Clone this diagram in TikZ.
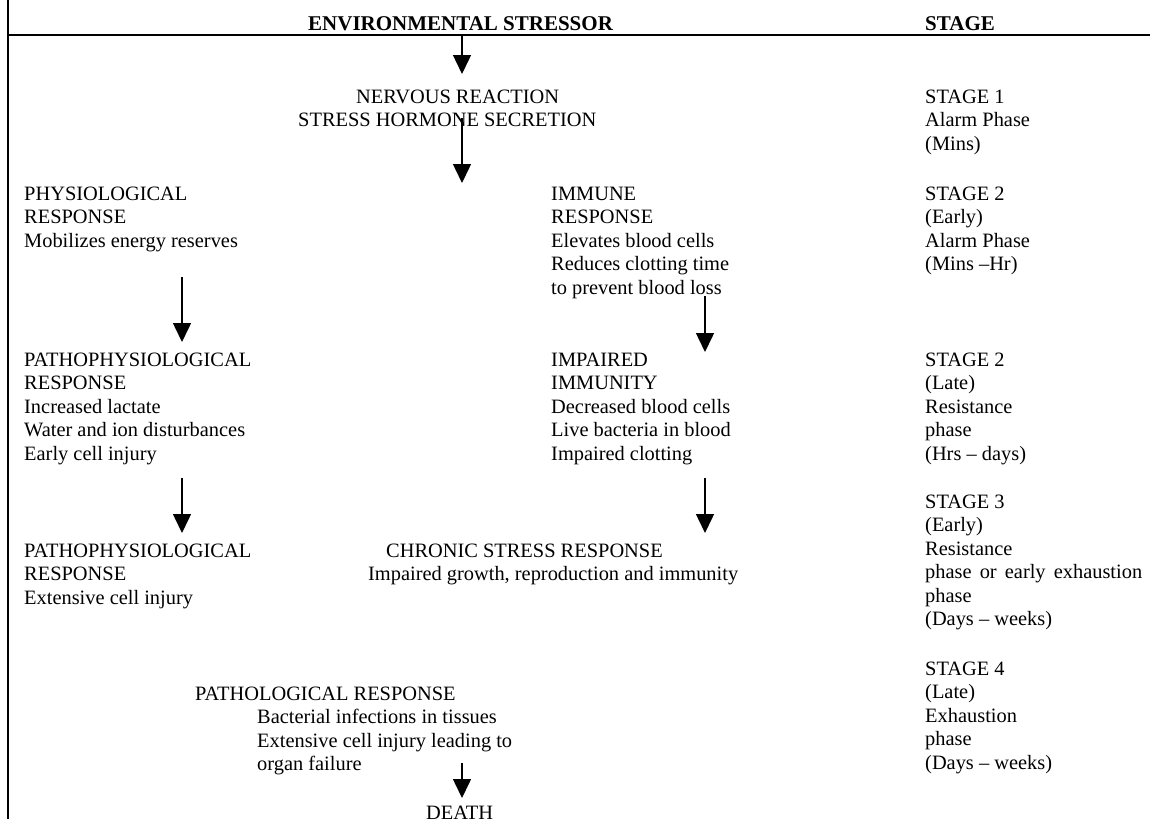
\documentclass[tikz,border=0pt]{standalone}
\usepackage{fontspec}
\setmainfont{Liberation Serif}
\usetikzlibrary{arrows.meta}
\tikzset{
  txt/.style={anchor=base west, align=left, inner sep=0pt, font=\fontsize{20.4pt}{23.5pt}\selectfont},
  head/.style={txt, font=\fontsize{21pt}{23.5pt}\selectfont\bfseries},
  flow/.style={line width=1.5pt, -{Triangle[width=18pt,length=19pt]}},
}
\begin{document}
\begin{tikzpicture}[x=1pt,y=-1pt]
  \useasboundingbox (0,0) rectangle (1150,819);
  % frame lines
  \draw[line width=2pt] (8,0) -- (8,819);
  \draw[line width=2pt] (8,35) -- (1150,35);
  % headings
  \node[head] (env) at (308,30) {ENVIRONMENTAL STRESSOR};
  \node[head] (stage) at (925,30) {STAGE};
  % response column (base = last line)
  \node[txt] (nerv) at (298,126.5) {\hspace*{58pt}NERVOUS REACTION\\STRESS HORMONE SECRETION};
  \node[txt] (phys) at (24,247) {PHYSIOLOGICAL\\RESPONSE\\Mobilizes energy reserves};
  \node[txt] (imm) at (551,294) {IMMUNE\\RESPONSE\\Elevates blood cells\\Reduces clotting time\\to prevent blood loss};
  \node[txt] (path1) at (24,460) {PATHOPHYSIOLOGICAL\\RESPONSE\\Increased lactate\\Water and ion disturbances\\Early cell injury};
  \node[txt] (impi) at (551,460) {IMPAIRED\\IMMUNITY\\Decreased blood cells\\Live bacteria in blood\\Impaired clotting};
  \node[txt] (path2) at (24,604) {PATHOPHYSIOLOGICAL\\RESPONSE\\Extensive cell injury};
  \node[txt] (chron) at (368,580.5) {\hspace*{18pt}CHRONIC STRESS RESPONSE\\Impaired growth, reproduction and immunity};
  \node[txt] (patho) at (195,770.5) {PATHOLOGICAL RESPONSE\\\hspace*{62pt}Bacterial infections in tissues\\\hspace*{62pt}Extensive cell injury leading to\\\hspace*{62pt}organ failure};
  \node[txt] (death) at (426,819) {DEATH};
  % stage column
  \node[txt] (s1) at (925,150) {STAGE 1\\Alarm Phase\\(Mins)};
  \node[txt] (s2a) at (925,270.5) {STAGE 2\\(Early)\\Alarm Phase\\(Mins –Hr)};
  \node[txt] (s2b) at (925,460) {STAGE 2\\(Late)\\Resistance\\phase\\(Hrs – days)};
  \node[txt] (s3) at (925,625.5) {STAGE 3\\(Early)\\Resistance\\\makebox[217pt][s]{phase or early exhaustion}\\phase\\(Days – weeks)};
  \node[txt] (s4) at (925,769) {STAGE 4\\(Late)\\Exhaustion\\phase\\(Days – weeks)};
  % arrows
  \foreach \n/\x/\ya/\yb in {a/462/35/74, b/462/118/183, c/182/277/342, d/182/478/533,
                             e/705/296/352, f/705/478/533, g/462/763/798}{
    \coordinate (\n0) at (\x,\ya);
    \coordinate (\n1) at (\x,\yb);
    \draw[flow] (\n0) -- (\n1);
  }
\end{tikzpicture}
\end{document}
